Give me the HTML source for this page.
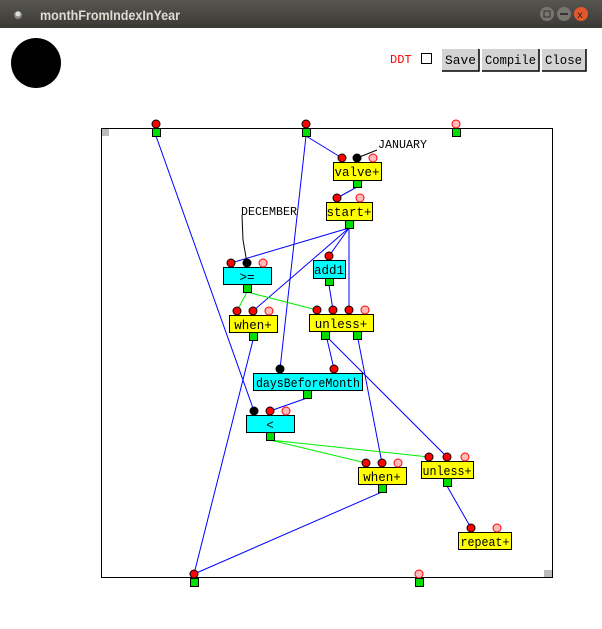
<!DOCTYPE html>
<html><head><style>
html,body{margin:0;padding:0;width:602px;height:629px;overflow:hidden;background:#fff}
svg{display:block}
text{font-family:"Liberation Mono",monospace}
</style></head><body>
<svg width="602" height="629" viewBox="0 0 602 629" xmlns="http://www.w3.org/2000/svg">
<defs><linearGradient id="tb" x1="0" y1="0" x2="0" y2="1"><stop offset="0" stop-color="#57554f"/><stop offset="1" stop-color="#3b3a36"/></linearGradient></defs>
<rect x="0" y="0" width="602" height="28" fill="url(#tb)"/>
<circle cx="18" cy="15" r="4" fill="#888"/><circle cx="18" cy="14" r="2.5" fill="#ddd"/>
<text x="40" y="20" font-weight="bold" font-size="14" fill="#dfdbd2" textLength="140" lengthAdjust="spacingAndGlyphs" style="font-family:'Liberation Sans',sans-serif">monthFromIndexInYear</text>
<circle cx="547" cy="14" r="7" fill="#77756f"/><rect x="544" y="11" width="6" height="6" fill="none" stroke="#333"/>
<circle cx="564" cy="14" r="7" fill="#77756f"/><rect x="560" y="13" width="8" height="2" fill="#333"/>
<circle cx="581" cy="14" r="7" fill="#e4572b"/><text x="577" y="18" font-size="10" fill="#222">x</text>
<circle cx="36" cy="63" r="25" fill="#000"/>
<text x="390" y="63" font-size="12" fill="#f00">DDT</text>
<rect x="421.5" y="53.5" width="10" height="10" fill="#fff" stroke="#000"/>
<g font-size="12.5">
<rect x="442" y="49" width="37" height="22" fill="#d3d3d3"/><path d="M442 71H479V49" stroke="#000" fill="none" stroke-width="1.5"/><text x="445" y="64" textLength="31" lengthAdjust="spacingAndGlyphs">Save</text>
<rect x="482" y="49" width="57" height="22" fill="#d3d3d3"/><path d="M482 71H539V49" stroke="#000" fill="none" stroke-width="1.5"/><text x="485" y="64" textLength="51" lengthAdjust="spacingAndGlyphs">Compile</text>
<rect x="542" y="49" width="44" height="22" fill="#d3d3d3"/><path d="M542 71H586V49" stroke="#000" fill="none" stroke-width="1.5"/><text x="545" y="64" textLength="37" lengthAdjust="spacingAndGlyphs">Close</text>
</g>
<rect x="101.5" y="128.5" width="451" height="449" fill="none" stroke="#000"/>
<rect x="102" y="129" width="7" height="7" fill="#bbb"/><rect x="544" y="570" width="8" height="7" fill="#bbb"/>
<g stroke="#00f" stroke-width="1" fill="none">
<line x1="156" y1="136" x2="254" y2="411"/>
<line x1="306" y1="136" x2="280" y2="369"/>
<line x1="306" y1="136" x2="342" y2="158"/>
<line x1="357" y1="187" x2="337" y2="198"/>
<line x1="349" y1="228" x2="231" y2="263"/>
<line x1="349" y1="228" x2="253" y2="311"/>
<line x1="349" y1="228" x2="329" y2="256"/>
<line x1="349" y1="228" x2="349" y2="310"/>
<line x1="329" y1="285" x2="333" y2="310"/>
<line x1="327" y1="339" x2="334" y2="369"/>
<line x1="329" y1="339" x2="447" y2="457"/>
<line x1="358" y1="339" x2="382" y2="463"/>
<line x1="307" y1="398" x2="270" y2="411"/>
<line x1="253" y1="340" x2="194" y2="574"/>
<line x1="382" y1="492" x2="194" y2="574"/>
<line x1="447" y1="486" x2="471" y2="528"/>
</g>
<g stroke="#0e0" stroke-width="1">
<line x1="247" y1="292" x2="237" y2="311"/>
<line x1="247" y1="292" x2="317" y2="310"/>
<line x1="270" y1="440" x2="366" y2="463"/>
<line x1="270" y1="440" x2="429" y2="457"/>
</g>
<g stroke="#000" fill="none">
<polyline points="242,215 243,240 247,263"/>
<line x1="377" y1="150" x2="357" y2="158"/>
</g>
<text x="241" y="215" font-size="12" textLength="56" lengthAdjust="spacingAndGlyphs">DECEMBER</text>
<text x="378" y="148" font-size="12" textLength="49" lengthAdjust="spacingAndGlyphs">JANUARY</text>
<g stroke="#000" font-size="12.5" text-anchor="middle">
<rect x="333.5" y="162.5" width="48" height="18" fill="#ff0"/><text x="357" y="176" stroke="none">valve+</text>
<rect x="326.5" y="202.5" width="46" height="18" fill="#ff0"/><text x="349" y="216" stroke="none">start+</text>
<rect x="223.5" y="267.5" width="48" height="17" fill="#0ff"/><text x="247" y="281" stroke="none">&gt;=</text>
<rect x="313.5" y="260.5" width="32" height="18" fill="#0ff"/><text x="329" y="274" stroke="none">add1</text>
<rect x="229.5" y="315.5" width="48" height="17" fill="#ff0"/><text x="253" y="329" stroke="none">when+</text>
<rect x="309.5" y="314.5" width="64" height="17" fill="#ff0"/><text x="341" y="328" stroke="none">unless+</text>
<rect x="253.5" y="373.5" width="109" height="17" fill="#0ff"/><text x="308" y="387" stroke="none" textLength="104" lengthAdjust="spacingAndGlyphs">daysBeforeMonth</text>
<rect x="246.5" y="415.5" width="48" height="17" fill="#0ff"/><text x="270" y="429" stroke="none">&lt;</text>
<rect x="358.5" y="467.5" width="48" height="17" fill="#ff0"/><text x="382" y="481" stroke="none">when+</text>
<rect x="421.5" y="461.5" width="52" height="17" fill="#ff0"/><text x="447" y="475" stroke="none" textLength="49" lengthAdjust="spacingAndGlyphs">unless+</text>
<rect x="458.5" y="532.5" width="53" height="17" fill="#ff0"/><text x="485" y="546" stroke="none" textLength="49" lengthAdjust="spacingAndGlyphs">repeat+</text>
</g>
<g fill="#0d0" stroke="#000">
<rect x="152.5" y="128.5" width="8" height="8"/><rect x="302.5" y="128.5" width="8" height="8"/><rect x="452.5" y="128.5" width="8" height="8"/>
<rect x="190.5" y="578.5" width="8" height="8"/><rect x="415.5" y="578.5" width="8" height="8"/>
<rect x="353.5" y="180.5" width="8" height="7"/><rect x="345.5" y="220.5" width="8" height="8"/>
<rect x="243.5" y="284.5" width="8" height="8"/><rect x="325.5" y="278.5" width="8" height="7"/>
<rect x="249.5" y="332.5" width="8" height="8"/><rect x="321.5" y="331.5" width="8" height="8"/><rect x="353.5" y="331.5" width="8" height="8"/>
<rect x="303.5" y="390.5" width="8" height="8"/><rect x="266.5" y="432.5" width="8" height="8"/>
<rect x="378.5" y="484.5" width="8" height="8"/><rect x="443.5" y="478.5" width="8" height="8"/>
</g>
<g stroke="#000" fill="#f00">
<circle cx="156" cy="124" r="4"/><circle cx="306" cy="124" r="4"/><circle cx="194" cy="574" r="4"/>
<circle cx="342" cy="158" r="4"/><circle cx="337" cy="198" r="4"/><circle cx="231" cy="263" r="4"/><circle cx="329" cy="256" r="4"/>
<circle cx="237" cy="311" r="4"/><circle cx="253" cy="311" r="4"/>
<circle cx="317" cy="310" r="4"/><circle cx="333" cy="310" r="4"/><circle cx="349" cy="310" r="4"/>
<circle cx="334" cy="369" r="4"/><circle cx="270" cy="411" r="4"/>
<circle cx="366" cy="463" r="4"/><circle cx="382" cy="463" r="4"/>
<circle cx="429" cy="457" r="4"/><circle cx="447" cy="457" r="4"/><circle cx="471" cy="528" r="4"/>
</g>
<g stroke="#000" fill="#000">
<circle cx="357" cy="158" r="4"/><circle cx="247" cy="263" r="4"/><circle cx="280" cy="369" r="4"/><circle cx="254" cy="411" r="4"/>
</g>
<g stroke="#f00" fill="#fbb">
<circle cx="456" cy="124" r="4"/><circle cx="419" cy="574" r="4"/>
<circle cx="373" cy="158" r="4"/><circle cx="360" cy="198" r="4"/><circle cx="263" cy="263" r="4"/>
<circle cx="269" cy="311" r="4"/><circle cx="365" cy="310" r="4"/><circle cx="286" cy="411" r="4"/>
<circle cx="398" cy="463" r="4"/><circle cx="465" cy="457" r="4"/><circle cx="497" cy="528" r="4"/>
</g>
</svg>
</body></html>
